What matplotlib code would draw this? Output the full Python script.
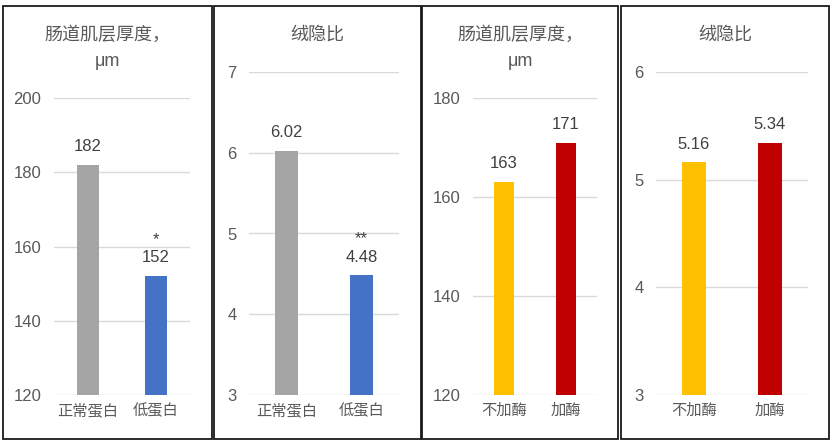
import matplotlib
matplotlib.use("Agg")
import matplotlib.pyplot as plt
from matplotlib.patches import Rectangle

plt.rcParams['font.family'] = ['Liberation Sans', 'Noto Sans CJK SC', 'DejaVu Sans']

# data
protein_groups = ['正常蛋白', '低蛋白']
protein_thickness = [182, 152]
protein_thickness_marks = ['', '*']
protein_ratio = [6.02, 4.48]
protein_ratio_marks = ['', '**']

enzyme_groups = ['不加酶', '加酶']
enzyme_thickness = [163, 171]
enzyme_ratio = [5.16, 5.34]

thickness_title = ['肠道肌层厚度，', 'μm']
ratio_title = ['绒隐比']

GRAY, BLUE, YELLOW, RED = '#A5A5A5', '#4472C4', '#FFC000', '#C00000'
TXT = '#595959'
W, H = 834, 444

fig = plt.figure(figsize=(W / 100, H / 100), dpi=100)


def panel(box, axbox, title, cats, vals, colors, ylim, step, fmt, marks=None):
    x0, y0, x1, y1 = box
    fig.add_artist(Rectangle((x0 / W, 1 - y1 / H), (x1 - x0) / W, (y1 - y0) / H,
                             transform=fig.transFigure, fill=False,
                             edgecolor='#1a1a1a', lw=1.3))
    cx = (x0 + x1) / 2
    for i, line in enumerate(title):
        fig.text(cx / W, 1 - (35 + 27 * i) / H, line, fontsize=13,
                 color=TXT, ha='center', va='center')

    l, t, r, b = axbox
    ax = fig.add_axes([l / W, 1 - b / H, (r - l) / W, (b - t) / H])
    ax.patch.set_alpha(0)
    xs = range(len(cats))
    ax.bar(xs, [v - ylim[0] for v in vals], bottom=ylim[0], width=0.31,
           color=colors, zorder=3)
    ax.set_xlim(-0.5, len(cats) - 0.5)
    ax.set_ylim(*ylim)
    ticks = [ylim[0] + step * i for i in range(int(round((ylim[1] - ylim[0]) / step)) + 1)]
    ax.set_yticks(ticks)
    ax.set_yticklabels([f'{t:g}' for t in ticks])
    ax.set_xticks(list(xs))
    ax.set_xticklabels(cats, fontsize=11, color=TXT)
    ax.tick_params(axis='y', length=0, pad=9, labelsize=12, labelcolor=TXT)
    ax.tick_params(axis='x', length=0, pad=6)
    for s in ax.spines.values():
        s.set_visible(False)
    ax.yaxis.grid(True, color='#D9D9D9', lw=1, zorder=0)
    ax.set_axisbelow(True)

    for i, v in enumerate(vals):
        ax.annotate(fmt.format(v), (i, v), xytext=(0, 10), textcoords='offset points',
                    ha='center', va='baseline', fontsize=12, color='#404040')
        if marks and marks[i]:
            ax.annotate(marks[i], (i, v), xytext=(0, 23), textcoords='offset points',
                        ha='center', va='baseline', fontsize=12, color='#404040')
    return ax


panel((3, 6, 212, 439), (54, 98, 190, 395), thickness_title, protein_groups,
      protein_thickness, [GRAY, BLUE], (120, 200), 20, '{:.0f}', protein_thickness_marks)
panel((214, 6, 421, 439), (249, 72, 399, 395), ratio_title, protein_groups,
      protein_ratio, [GRAY, BLUE], (3, 7), 1, '{:.2f}', protein_ratio_marks)
panel((422, 6, 618, 439), (473, 98, 597, 395), thickness_title, enzyme_groups,
      enzyme_thickness, [YELLOW, RED], (120, 180), 20, '{:.0f}')
panel((621, 6, 829, 439), (656, 72, 808, 395), ratio_title, enzyme_groups,
      enzyme_ratio, [YELLOW, RED], (3, 6), 1, '{:.2f}')

fig.savefig('out.png', dpi=100, facecolor='white')
